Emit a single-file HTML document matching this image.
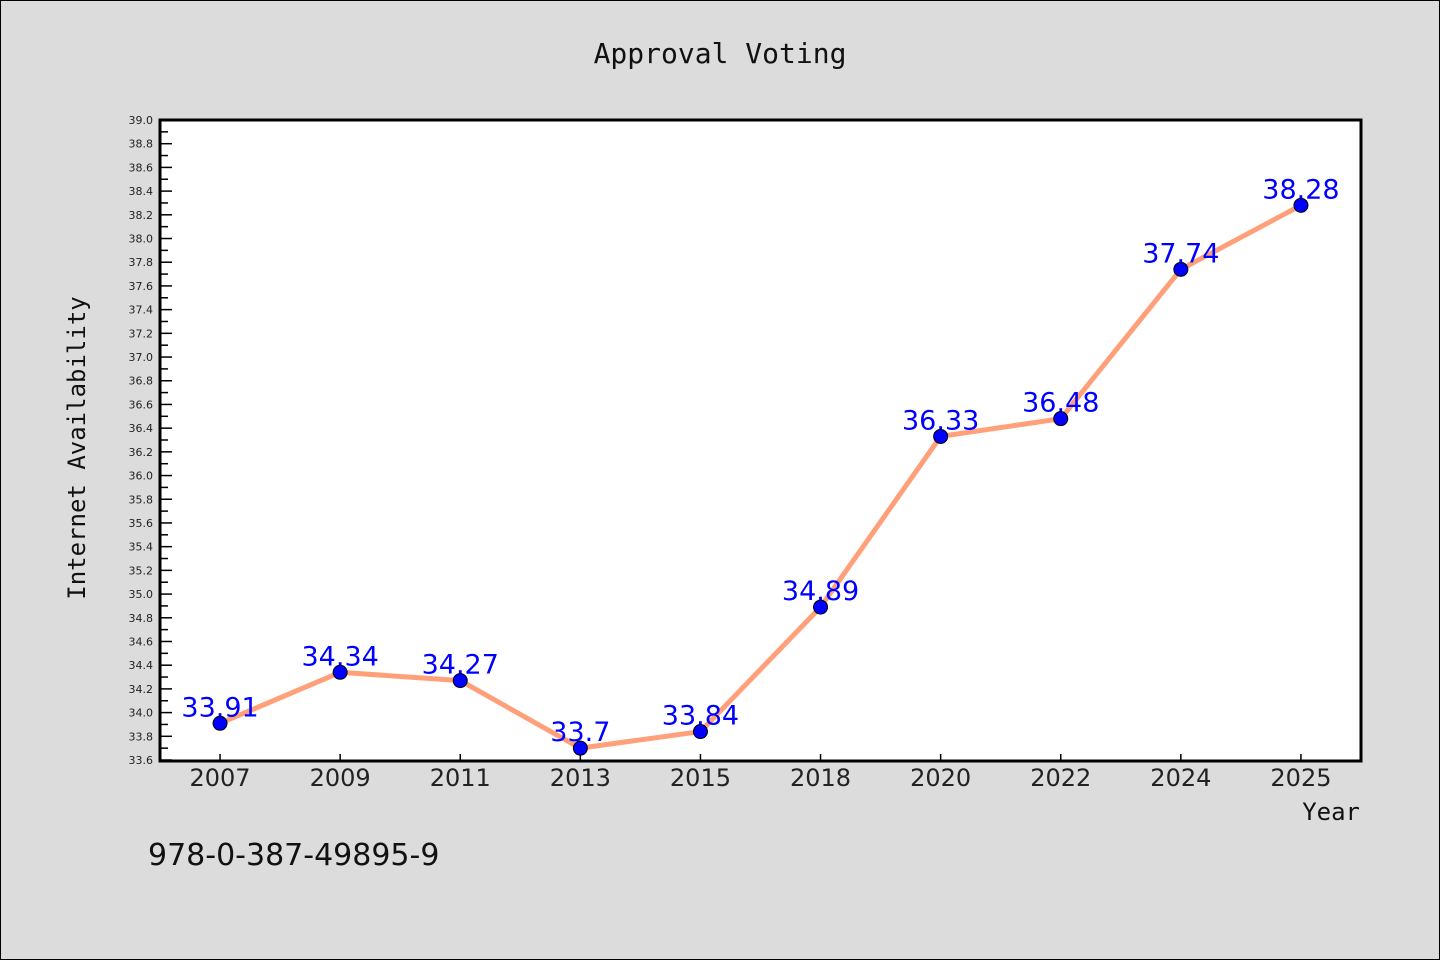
<!DOCTYPE html>
<html><head><meta charset="utf-8"><style>
html,body{margin:0;padding:0;background:#dcdcdc;}
svg{display:block;}
</style></head><body>
<svg id="chart" width="1440" height="960" xmlns="http://www.w3.org/2000/svg" font-family="'WenQuanYi Zen Hei','DejaVu Sans',sans-serif">
<rect x="0.5" y="0.5" width="1439" height="959" fill="#dcdcdc" stroke="#000" stroke-width="1"/>
<text x="720" y="63" text-anchor="middle" font-size="28" font-family="'DejaVu Sans Mono','Liberation Mono',monospace" fill="#111">Approval Voting</text>
<rect x="160" y="120" width="1201" height="641" fill="#fff"/>
<g id="yaxis"></g>
<g id="xaxis"></g>
<g id="series"></g>
<rect x="160" y="120" width="1201" height="641" fill="none" stroke="#000" stroke-width="3"/>
<text transform="translate(85,448) rotate(-90)" text-anchor="middle" font-size="24" font-family="'DejaVu Sans Mono','Liberation Mono',monospace" fill="#111">Internet Availability</text>
<text x="1360" y="820" text-anchor="end" font-size="24" font-family="'DejaVu Sans Mono','Liberation Mono',monospace" fill="#111">Year</text>
<text x="148" y="865" font-size="30" fill="#111">978-0-387-49895-9</text>
</svg>
<script>
const categories = ["2007","2009","2011","2013","2015","2018","2020","2022","2024","2025"];
const values = [33.91,34.34,34.27,33.7,33.84,34.89,36.33,36.48,37.74,38.28];
const valueLabels = ["33.91","34.34","34.27","33.7","33.84","34.89","36.33","36.48","37.74","38.28"];
const yMin = 33.6, yMax = 39.0;

const NS="http://www.w3.org/2000/svg";
const L=160,R=1361,T=120,B=760;
function xs(i){return L+(R-L)/categories.length*(i+0.5);}
function ys(v){return B-(v-yMin)/(yMax-yMin)*(B-T);}
function mk(tag,attrs,parent){const e=document.createElementNS(NS,tag);for(const k in attrs)e.setAttribute(k,attrs[k]);parent.appendChild(e);return e;}

const ya=document.getElementById('yaxis');
const nMinor=Math.round((yMax-yMin)/0.1);
for(let k=0;k<=nMinor;k++){
  const v=yMin+k*0.1, y=ys(v), major=k%2===0;
  const t=mk('line',{x1:L,x2:L+(major?12:8),y1:y,y2:y,stroke:'#000','stroke-width':1.5},ya);
  
  
  if(major){
    const lb=mk('text',{x:L-7,y:y+4,'text-anchor':'end','font-size':11,fill:'#222','font-family':"'DejaVu Sans',sans-serif"},ya);
    
    
    lb.textContent=v.toFixed(1);
  }
}
const xa=document.getElementById('xaxis');
categories.forEach((c,i)=>{
  const x=xs(i);
  const t=mk('line',{x1:x,x2:x,y1:B,y2:B-6,stroke:'#000','stroke-width':1.5},xa);
  
  
  const lb=mk('text',{x:x,y:B+26,'text-anchor':'middle','font-size':24,fill:'#222'},xa);
  
  
  lb.textContent=c;
});
const s=document.getElementById('series');
const pts=values.map((v,i)=>xs(i)+','+ys(v)).join(' ');
const pl=mk('polyline',{points:pts,fill:'none',stroke:'#ffa07a','stroke-width':5,'stroke-linejoin':'round'},s);


values.forEach((v,i)=>{
  const lb=mk('text',{x:xs(i),y:ys(v)-7,'text-anchor':'middle','font-size':27,fill:'#0000ff'},s);
  
  
  lb.textContent=valueLabels[i];
});
values.forEach((v,i)=>{
  const c=mk('circle',{cx:xs(i),cy:ys(v),r:7,fill:'#0000ff',stroke:'#000','stroke-width':1},s);
  
  
});
</script>
</body></html>
